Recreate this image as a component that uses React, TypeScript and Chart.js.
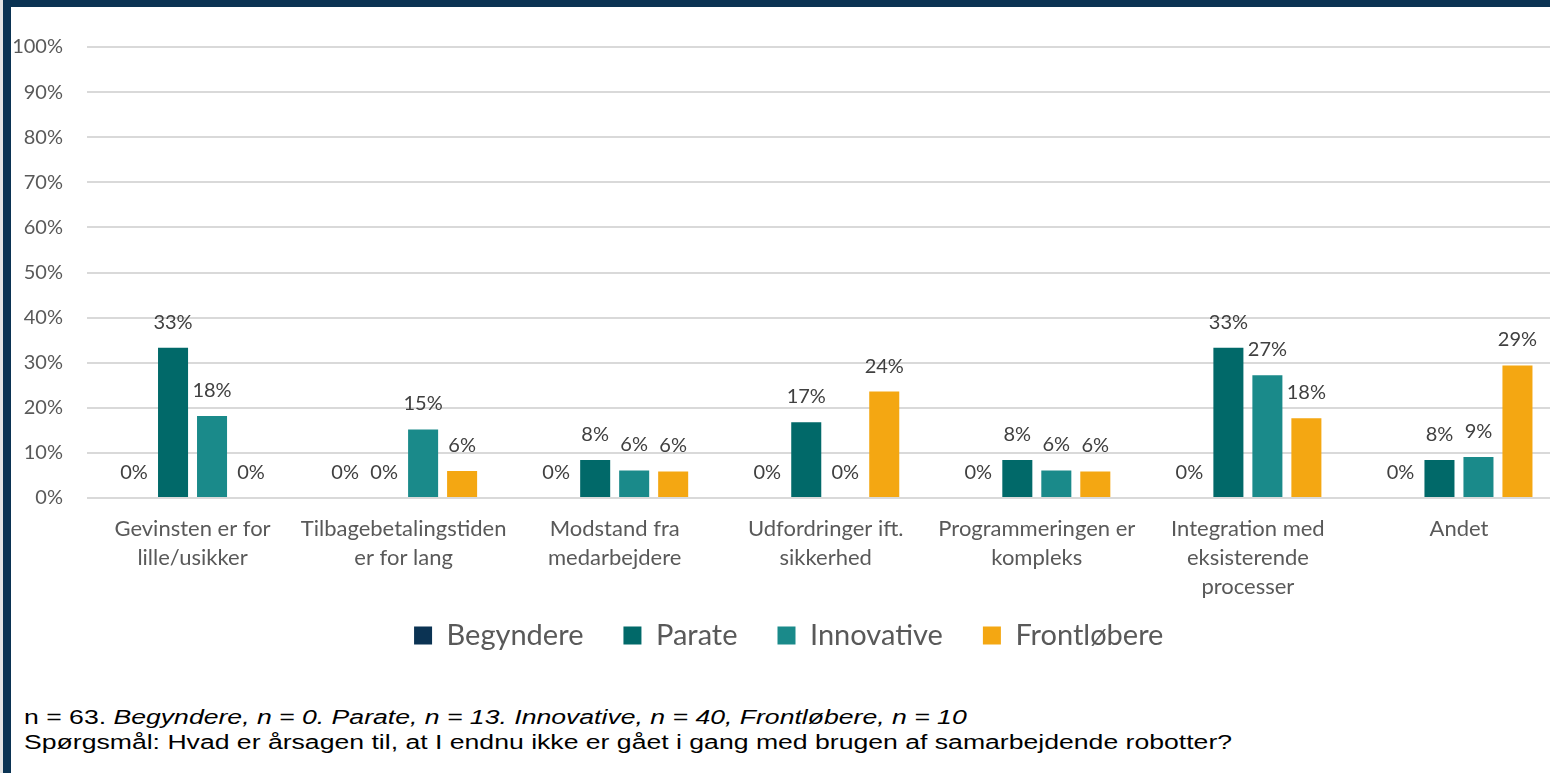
import React, { useEffect, useRef } from "react";
import { Chart, registerables } from "chart.js";

Chart.register(...registerables);

const categories: string[][] = [
  ["Gevinsten er for", "lille/usikker"],
  ["Tilbagebetalingstiden", "er for lang"],
  ["Modstand fra", "medarbejdere"],
  ["Udfordringer ift.", "sikkerhed"],
  ["Programmeringen er", "kompleks"],
  ["Integration med", "eksisterende", "processer"],
  ["Andet"],
];

const seriesNames = ["Begyndere", "Parate", "Innovative", "Frontløbere"];
const begyndere = [0, 0, 0, 0, 0, 0, 0];
const parate = [33.3, 0, 8.4, 16.8, 8.4, 33.3, 8.4];
const innovative = [18.2, 15.2, 6.1, 0, 6.1, 27.2, 9.1];
const frontlobere = [0, 6.0, 5.9, 23.6, 5.9, 17.7, 29.4];
const seriesColors = ["#0b3353", "#016969", "#1a8a8a", "#f4a712"];

const yMin = 0;
const yMax = 100;
const yStep = 10;

const footLine1Plain = "n = 63. ";
const footLine1Italic =
  "Begyndere, n = 0. Parate, n = 13. Innovative, n = 40, Frontløbere, n = 10";
const footLine2 =
  "Spørgsmål: Hvad er årsagen til, at I endnu ikke er gået i gang med brugen af samarbejdende robotter?";

const CANVAS_W = 1580;
const CANVAS_H = 660;

const dataLabelPlugin = {
  id: "dataLabels",
  afterDatasetsDraw(chart: any) {
    const ctx = chart.ctx;
    ctx.save();
    ctx.font = "20px Lato";
    ctx.fillStyle = "#404040";
    ctx.textAlign = "center";
    ctx.textBaseline = "middle";
    chart.data.datasets.forEach((ds: any, i: number) => {
      const meta = chart.getDatasetMeta(i);
      meta.data.forEach((el: any, j: number) => {
        const v = ds.data[j] as number;
        ctx.fillText(Math.round(v) + "%", el.x, el.y - 25.5);
      });
    });
    ctx.restore();
  },
};

// let the multi-line category labels draw below the x-axis box (not clipped)
const labelClipPlugin = {
  id: "labelClip",
  afterLayout(chart: any) {
    const x = chart.scales.x;
    if (x) x.bottom = x.bottom + 40;
  },
};

export default function App() {
  const canvasRef = useRef<HTMLCanvasElement | null>(null);

  useEffect(() => {
    if (!canvasRef.current) return;
    const seriesData = [begyndere, parate, innovative, frontlobere];
    const chart = new Chart(canvasRef.current, {
      type: "bar",
      data: {
        labels: categories,
        datasets: seriesNames.map((name, i) => ({
          label: name,
          data: seriesData[i],
          backgroundColor: seriesColors[i],
          borderWidth: 0,
          categoryPercentage: 0.739,
          barPercentage: 0.77,
        })),
      },
      options: {
        responsive: false,
        maintainAspectRatio: false,
        animation: false,
        devicePixelRatio: 1,
        layout: {
          padding: { left: 13, right: CANVAS_W - 1564.5, top: 47, bottom: 0 },
        },
        plugins: {
          tooltip: { enabled: false },
          legend: {
            position: "bottom",
            labels: {
              boxWidth: 18,
              boxHeight: 18,
              padding: 40,
              color: "#595959",
              font: { family: "Lato", size: 29 },
            },
          },
        },
        scales: {
          x: {
            grid: { display: false, drawTicks: false, tickLength: 0 },
            border: { display: false },
            ticks: {
              color: "#595959",
              font: { family: "Lato", size: 22, lineHeight: 1.32 },
              padding: 16.5,
              maxRotation: 0,
              autoSkip: false,
            },
            afterFit: (scale: any) => {
              scale.height = 83;
            },
          },
          y: {
            min: yMin,
            max: yMax,
            grid: { color: "#d9d9d9", lineWidth: 2, drawTicks: false, tickLength: 0 },
            border: { display: false },
            ticks: {
              stepSize: yStep,
              color: "#595959",
              font: { family: "Lato", size: 20 },
              padding: 24,
              callback: (v: any) => v + "%",
            },
            afterFit: (scale: any) => {
              scale.width = 74;
            },
          },
        },
      },
      plugins: [dataLabelPlugin, labelClipPlugin],
    });
    return () => chart.destroy();
  }, []);

  return (
    <div
      style={{
        position: "fixed",
        left: 0,
        top: 0,
        width: 1550,
        height: 773,
        overflow: "hidden",
        background: "#ffffff",
      }}
    >
      <canvas
        ref={canvasRef}
        width={CANVAS_W}
        height={CANVAS_H}
        style={{ position: "absolute", left: 0, top: 0, width: CANVAS_W, height: CANVAS_H }}
      />
      <div
        style={{
          position: "absolute",
          left: 0,
          top: 0,
          width: 1550,
          height: 7,
          background: "#0b3353",
        }}
      />
      <div
        style={{
          position: "absolute",
          left: 0,
          top: 0,
          width: 3,
          height: 773,
          background: "#e4e4e4",
        }}
      />
      <div
        style={{
          position: "absolute",
          left: 3,
          top: 0,
          width: 8,
          height: 773,
          background: "#0b3353",
        }}
      />
      <div
        style={{
          position: "absolute",
          left: 24,
          top: 705,
          fontFamily: "'Liberation Sans', Arial, sans-serif",
          fontSize: 20,
          lineHeight: "25px",
          color: "#000000",
          whiteSpace: "nowrap",
          transform: "scaleX(1.33)",
          transformOrigin: "left top",
        }}
      >
        <div>
          {footLine1Plain}
          <i>{footLine1Italic}</i>
        </div>
        <div>{footLine2}</div>
      </div>
    </div>
  );
}
